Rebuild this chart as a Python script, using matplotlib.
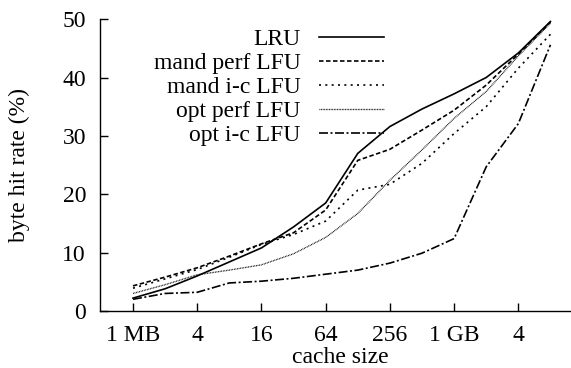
import matplotlib
matplotlib.use("Agg")
import matplotlib.pyplot as plt

# cache sizes as log2(MB): 1 MB .. 8 GB
sizes = list(range(14))
tick_pos = [0, 2, 4, 6, 8, 10, 12]
tick_labels = ["1 MB", "4", "16", "64", "256", "1 GB", "4"]

lru = [2.2, 3.8, 6.0, 8.4, 10.8, 14.4, 18.5, 27.0, 31.6, 34.6, 37.2, 40.0, 44.2, 49.6]
mand_perf = [4.3, 5.8, 7.4, 9.4, 11.5, 13.4, 17.3, 25.8, 27.7, 31.0, 34.4, 38.7, 44.0, 49.5]
mand_ic = [3.9, 5.5, 7.1, 9.2, 11.4, 13.1, 15.4, 20.7, 21.7, 25.3, 30.4, 35.0, 41.6, 47.4]
opt_perf = [3.0, 4.5, 6.2, 7.0, 7.9, 9.8, 12.6, 16.7, 22.4, 27.6, 33.0, 37.6, 43.7, 49.3]
opt_ic = [2.0, 3.0, 3.2, 4.8, 5.1, 5.6, 6.3, 7.0, 8.2, 9.9, 12.4, 24.7, 32.1, 45.6]

plt.rcParams["font.family"] = ["Liberation Serif", "DejaVu Serif"]
plt.rcParams["font.size"] = 17

def main():
    fig = plt.figure(figsize=(5.71, 3.68), dpi=100)
    ax = fig.add_axes([0.175, 0.155, 0.825, 0.793])

    lw = 1.2
    ax.plot(sizes, lru, color="black", lw=lw, label="LRU")
    ax.plot(sizes, mand_perf, color="black", lw=lw, dashes=(2.7, 1.5), label="mand perf LFU")
    ax.plot(sizes, mand_ic, color="black", lw=lw, dashes=(1.2, 2.6), label="mand i-c LFU")
    ax.plot(sizes, opt_perf, color="black", lw=lw * 0.8, dashes=(0.6, 0.6), label="opt perf LFU")
    ax.plot(sizes, opt_ic, color="black", lw=lw, dashes=(5.4, 1.5, 1.2, 1.5), label="opt i-c LFU")

    ax.set_xlim(-1.03, 13.64)
    ax.set_ylim(0, 50)
    ax.set_xticks(tick_pos)
    ax.set_xticklabels(tick_labels)
    ax.set_yticks([0, 10, 20, 30, 40, 50])

    for side in ["top", "right"]:
        ax.spines[side].set_visible(False)
    for side in ["left", "bottom"]:
        ax.spines[side].set_linewidth(1.0)
    ax.tick_params(axis="both", direction="in", length=6, width=1.0)
    ax.tick_params(axis="y", pad=10)
    ax.tick_params(axis="x", pad=10)

    ax.set_xlabel("cache size")
    ax.xaxis.set_label_coords(0.51, -0.125)
    ax.set_ylabel("byte hit rate (%)")
    ax.yaxis.set_label_coords(-0.149, 0.5)

    ax.legend(loc="upper right", bbox_to_anchor=(0.602, 0.967), markerfirst=False,
              frameon=False, handlelength=2.75, handletextpad=0.76,
              labelspacing=0.1, borderaxespad=0, borderpad=0)

    fig.savefig("out.png", dpi=100)

if __name__ == "__main__":
    main()
